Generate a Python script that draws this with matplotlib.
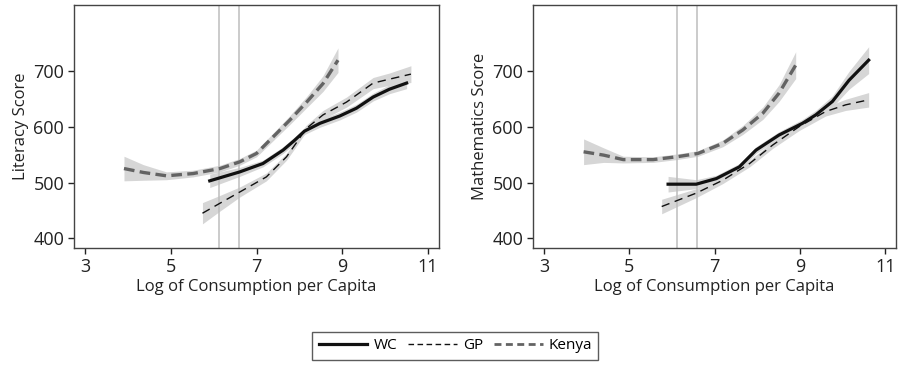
import matplotlib
matplotlib.use("Agg")
import matplotlib.pyplot as plt
import numpy as np
from matplotlib.lines import Line2D

plt.rcParams['font.family'] = ['Open Sans', 'DejaVu Sans']

# ---------- Literacy panel data ----------
lit_kenya_x = [3.91, 4.36, 4.9, 5.52, 6.15, 6.61, 7.0, 7.47, 7.78, 8.17, 8.55, 8.9]
lit_kenya_y = [525, 518, 512, 516, 525, 537, 552, 588, 612, 644, 677, 719]
lit_kenya_se = [22, 14, 7, 6, 6, 6, 6, 7, 8, 10, 14, 22]

lit_wc_x = [5.91, 6.61, 7.15, 7.62, 7.88, 8.12, 8.48, 8.94, 9.33, 9.72, 10.1, 10.5]
lit_wc_y = [503, 519, 534, 558, 575, 592, 606, 619, 633, 653, 667, 678]
lit_wc_se = [12, 8, 6, 6, 6, 6, 7, 7, 7, 7, 8, 10]

lit_gp_x = [5.74, 6.15, 6.61, 7.23, 7.7, 7.92, 8.15, 8.55, 9.1, 9.72, 10.1, 10.6]
lit_gp_y = [445, 463, 483, 510, 546, 570, 596, 621, 644, 678, 685, 694]
lit_gp_se = [19, 14, 9, 7, 6, 6, 6, 8, 9, 10, 11, 15]

# ---------- Mathematics panel data ----------
mat_kenya_x = [3.93, 4.4, 4.86, 5.56, 6.11, 6.61, 7.19, 7.66, 8.13, 8.51, 8.9]
mat_kenya_y = [555, 549, 541, 541, 546, 552, 570, 594, 624, 660, 710]
mat_kenya_se = [23, 13, 6, 5, 5, 5, 6, 8, 11, 15, 24]

mat_wc_x = [5.91, 6.57, 7.04, 7.58, 7.97, 8.51, 9.06, 9.37, 9.76, 10.15, 10.61]
mat_wc_y = [497, 497, 507, 528, 558, 585, 606, 621, 645, 683, 719]
mat_wc_se = [14, 8, 6, 6, 6, 6, 7, 8, 10, 16, 24]

mat_gp_x = [5.76, 6.57, 7.19, 7.82, 8.36, 8.98, 9.6, 10.07, 10.61]
mat_gp_y = [457, 481, 504, 534, 567, 600, 627, 639, 648]
mat_gp_se = [13, 8, 6, 6, 6, 7, 8, 10, 13]

vlines = [6.12, 6.59]
xticks = [3, 5, 7, 9, 11]
yticks = [400, 500, 600, 700]
ylabels = ["Literacy Score", "Mathematics Score"]
xlabel = "Log of Consumption per Capita"
legend_labels = ["WC", "GP", "Kenya"]

band_color = "#d6d6d6"
kenya_color = "#636363"
frame_color = "#444444"
text_color = "#222222"

fig = plt.figure(figsize=(9, 3.67), dpi=100)
ax1 = fig.add_axes([0.082, 0.324, 0.406, 0.662])
ax2 = fig.add_axes([0.592, 0.324, 0.404, 0.662])

panels = [
    (ax1, ylabels[0],
     (lit_wc_x, lit_wc_y, lit_wc_se),
     (lit_gp_x, lit_gp_y, lit_gp_se),
     (lit_kenya_x, lit_kenya_y, lit_kenya_se)),
    (ax2, ylabels[1],
     (mat_wc_x, mat_wc_y, mat_wc_se),
     (mat_gp_x, mat_gp_y, mat_gp_se),
     (mat_kenya_x, mat_kenya_y, mat_kenya_se)),
]

for ax, ylab, wc, gp, ke in panels:
    for (xs, ys, se) in (ke, wc, gp):
        xs = np.array(xs); ys = np.array(ys); se = np.array(se)
        ax.fill_between(xs, ys - se, ys + se, color=band_color, lw=0, zorder=1)
    for v in vlines:
        ax.axvline(v, color="#bdbdbd", lw=1.1, zorder=2)
    ax.plot(ke[0], ke[1], color=kenya_color, lw=2.4, ls=(0, (3.2, 1.6)), zorder=3)
    ax.plot(wc[0], wc[1], color="#111111", lw=2.3, ls="-", zorder=4)
    ax.plot(gp[0], gp[1], color="#111111", lw=1.0, ls=(0, (6, 4)), zorder=4)

    ax.set_xlim(2.74, 11.26)
    ax.set_ylim(382.6, 817.5)
    ax.set_xticks(xticks)
    ax.set_yticks(yticks)
    ax.tick_params(axis="both", labelsize=13, colors=text_color, length=4,
                   width=1, direction="out", pad=3)
    for s in ax.spines.values():
        s.set_color(frame_color)
        s.set_linewidth(1.0)
    ax.set_xlabel(xlabel, fontsize=12, color=text_color, labelpad=2)
    ax.set_ylabel(ylab, fontsize=12, color=text_color, labelpad=3)

handles = [
    Line2D([], [], color="#111111", lw=2.3, ls="-"),
    Line2D([], [], color="#111111", lw=1.0, ls=(0, (4, 2.5))),
    Line2D([], [], color=kenya_color, lw=2.0, ls=(0, (2.5, 1.6))),
]
leg = fig.legend(handles, legend_labels, loc="center", ncol=3,
                 bbox_to_anchor=(0.506, 0.0575), fontsize=11, frameon=True,
                 fancybox=False, edgecolor="#333333", handlelength=3.2,
                 handletextpad=0.4, columnspacing=0.7, borderpad=0.4,
                 borderaxespad=0)
leg.get_frame().set_linewidth(1.0)

fig.savefig("out.png", dpi=100)
